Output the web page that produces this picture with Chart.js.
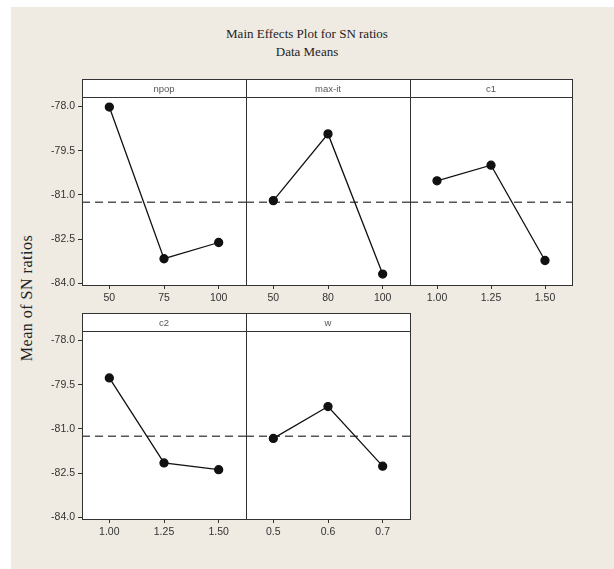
<!DOCTYPE html>
<html>
<head>
<meta charset="utf-8">
<script src="https://cdn.jsdelivr.net/npm/chart.js@4.4.0/dist/chart.umd.min.js"></script>
<style>
  html, body { margin: 0; padding: 0; background: #ffffff; }
  #page { position: absolute; left: 11px; top: 7px; width: 603px; height: 562px; background: #efebe3; }
  canvas { position: absolute; }
  .title { position: absolute; left: 0; width: 614px; text-align: center; font-family: "Liberation Serif", serif; font-size: 13px; color: #222; }
  #ylab { position: absolute; left: 27px; top: 298px; transform: translate(-50%, -50%) rotate(-90deg); font-family: "Liberation Serif", serif; font-size: 16px; letter-spacing: 0.5px; color: #222; white-space: nowrap; }
</style>
</head>
<body>
<div id="page"></div>
<div class="title" style="top:26px">Main Effects Plot for SN ratios</div>
<div class="title" style="top:44px">Data Means</div>
<div id="ylab">Mean of SN ratios</div>
<canvas id="p1"></canvas>
<canvas id="p2"></canvas>
<canvas id="p3"></canvas>
<canvas id="p4"></canvas>
<canvas id="p5"></canvas>
<script>
/* factor levels and mean SN ratios */
const npopLevels = ['50', '75', '100'];
const npopMeans = [-78.02, -83.16, -82.61];
const maxitLevels = ['50', '80', '100'];
const maxitMeans = [-81.19, -78.93, -83.68];
const c1Levels = ['1.00', '1.25', '1.50'];
const c1Means = [-80.52, -79.99, -83.22];
const c2Levels = ['1.00', '1.25', '1.50'];
const c2Means = [-79.27, -82.15, -82.38];
const wLevels = ['0.5', '0.6', '0.7'];
const wMeans = [-81.32, -80.24, -82.26];
const yTicks = [-84.0, -82.5, -81.0, -79.5, -78.0];
const grandMean = -81.25;

const frameColor = '#333'
const stripH = 18

// strip header, white plot area, dashed mean line and frame
const panelPlugin = {
    id: 'panel',
    beforeDraw(chart) {
        const a = chart.chartArea, ctx = chart.ctx
        ctx.save()
        ctx.fillStyle = '#ffffff'
        ctx.fillRect(a.left, a.top, a.right - a.left, a.bottom - a.top)
        ctx.restore()
    },
    beforeDatasetsDraw(chart) {
        const a = chart.chartArea, ctx = chart.ctx
        const y = chart.scales.y.getPixelForValue(grandMean)
        ctx.save()
        ctx.strokeStyle = '#555'
        ctx.lineWidth = 1.5
        ctx.setLineDash([8, 5])
        ctx.beginPath()
        ctx.moveTo(a.left, y)
        ctx.lineTo(a.right, y)
        ctx.stroke()
        ctx.restore()
    },
    afterDraw(chart, args, opts) {
        const a = chart.chartArea, ctx = chart.ctx
        ctx.save()
        ctx.strokeStyle = frameColor
        ctx.lineWidth = 1
        ctx.strokeRect(a.left + 0.5, a.top + 0.5, a.right - a.left, a.bottom - a.top)
        ctx.fillStyle = '#ffffff'
        ctx.fillRect(a.left, a.top - stripH, a.right - a.left, stripH)
        ctx.strokeRect(a.left + 0.5, a.top - stripH + 0.5, a.right - a.left, stripH)
        ctx.fillStyle = '#555'
        ctx.font = '9.5px "Liberation Sans"'
        ctx.textAlign = 'center'
        ctx.textBaseline = 'middle'
        ctx.fillText(opts.text, (a.left + a.right) / 2, a.top - stripH / 2 + 1)
        ctx.restore()
    }
}

function makePanel(id, name, levels, means, box, showY) {
    const padL = showY ? 72 : 1
    const cv = document.getElementById(id)
    const w = box.r - box.l + padL + 2
    const h = box.b - box.t + stripH + 1 + 28
    cv.width = w
    cv.height = h
    cv.style.left = (box.l - padL) + 'px'
    cv.style.top = (box.t - stripH - 1) + 'px'
    cv.style.width = w + 'px'
    cv.style.height = h + 'px'
    new Chart(cv, {
        type: 'line',
        data: {
            labels: levels,
            datasets: [{
                data: means,
                borderColor: '#111',
                borderWidth: 1.3,
                pointRadius: 4,
                pointBackgroundColor: '#111',
                pointBorderColor: '#111',
                tension: 0
            }]
        },
        options: {
            responsive: false,
            animation: false,
            devicePixelRatio: 1,
            layout: { autoPadding: false, padding: { top: stripH + 1, left: showY ? 0 : 1, right: 2, bottom: 0 } },
            plugins: {
                legend: { display: false },
                tooltip: { enabled: false },
                panel: { text: name }
            },
            scales: {
                x: {
                    offset: true,
                    grid: { drawOnChartArea: false, drawTicks: true, tickLength: 4, color: frameColor },
                    border: { color: frameColor },
                    ticks: { color: '#333', font: { family: 'Liberation Sans', size: 10.5 }, padding: 3, maxRotation: 0 },
                    afterFit: s => { s.height = 28 }
                },
                y: {
                    display: showY,
                    min: -84.05,
                    max: -77.68,
                    afterBuildTicks: s => { s.ticks = yTicks.map(v => ({ value: v })) },
                    grid: { drawOnChartArea: false, drawTicks: true, tickLength: 4, color: frameColor },
                    border: { color: frameColor },
                    ticks: { color: '#333', font: { family: 'Liberation Sans', size: 10.5 }, padding: 3, callback: v => v.toFixed(1) },
                    afterFit: s => { s.width = showY ? 72 : 0 }
                }
            }
        },
        plugins: [panelPlugin]
    })
}

makePanel('p1', 'npop', npopLevels, npopMeans, { l: 82, r: 246, t: 97, b: 285 }, true)
makePanel('p2', 'max-it', maxitLevels, maxitMeans, { l: 246, r: 410, t: 97, b: 285 }, false)
makePanel('p3', 'c1', c1Levels, c1Means, { l: 410, r: 572, t: 97, b: 285 }, false)
makePanel('p4', 'c2', c2Levels, c2Means, { l: 82, r: 246, t: 331, b: 519 }, true)
makePanel('p5', 'w', wLevels, wMeans, { l: 246, r: 410, t: 331, b: 519 }, false)
</script>
</body>
</html>
